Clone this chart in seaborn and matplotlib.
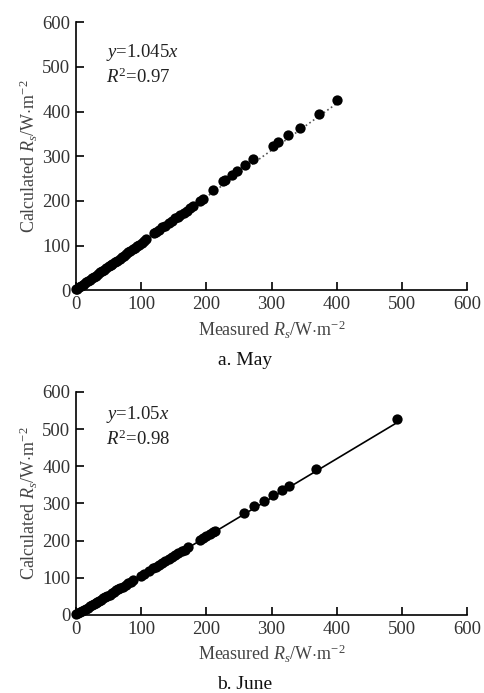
import numpy as np
import pandas as pd
import matplotlib
matplotlib.use("Agg")
import matplotlib.pyplot as plt
import seaborn as sns

# Data
may_measured = [0, 2, 5, 8, 10, 13, 16, 19, 22, 25, 28, 31, 34, 37, 40, 43, 46, 50, 53, 56,
                60, 63, 67, 70, 73, 76, 80, 83, 87, 90, 94, 97, 101, 104, 108, 120, 123, 127,
                132, 137, 142, 148, 152, 156, 160, 165, 170, 175, 180, 190, 195, 210, 225, 228,
                240, 247, 260, 272, 303, 310, 325, 343, 373, 400]
may_calculated = [3, 4, 7, 9, 12, 15, 18, 21, 24, 28, 31, 33, 36, 40, 43, 46, 49, 54, 56, 59,
                  64, 66, 71, 75, 77, 81, 85, 87, 92, 95, 99, 102, 107, 110, 114, 128, 131, 136,
                  141, 144, 150, 156, 161, 164, 169, 174, 178, 184, 189, 200, 205, 224, 244, 246,
                  259, 268, 280, 294, 324, 333, 347, 364, 395, 427]
may_slope = 1.045
may_r2 = 0.97

june_measured = [0, 3, 6, 9, 12, 15, 18, 21, 24, 27, 30, 33, 36, 39, 42, 45, 48, 52, 55, 58,
                 62, 65, 68, 72, 76, 80, 84, 88, 100, 105, 112, 118, 122, 127, 132, 137, 142,
                 147, 152, 157, 162, 167, 172, 190, 195, 200, 205, 210, 213, 258, 273, 288,
                 303, 316, 327, 368, 493]
june_calculated = [2, 5, 7, 10, 14, 17, 20, 23, 26, 29, 32, 35, 38, 41, 45, 48, 51, 55, 58, 61,
                   66, 69, 72, 76, 80, 85, 89, 93, 106, 111, 118, 125, 129, 134, 140, 145, 150,
                   155, 160, 166, 171, 176, 182, 202, 207, 212, 218, 222, 226, 275, 292, 307,
                   322, 335, 346, 393, 528]
june_slope = 1.05
june_r2 = 0.98

ticks = [0, 100, 200, 300, 400, 500, 600]

sns.set_style("ticks")
plt.rcParams['font.family'] = ['Liberation Serif', 'DejaVu Serif']
plt.rcParams['mathtext.fontset'] = 'custom'
plt.rcParams['mathtext.rm'] = 'Liberation Serif'
plt.rcParams['mathtext.it'] = 'Liberation Serif:italic'
plt.rcParams['xtick.direction'] = 'in'
plt.rcParams['ytick.direction'] = 'in'

fig = plt.figure(figsize=(4.84, 6.93), dpi=100)
ax_top = fig.add_axes([0.157, 0.581, 0.808, 0.387])
ax_bot = fig.add_axes([0.157, 0.1126, 0.808, 0.322])

panels = [
    (ax_top, may_measured, may_calculated, may_slope, may_r2, ':', '#555555', 'a. May',
     (0.888, 0.795), -0.261),
    (ax_bot, june_measured, june_calculated, june_slope, june_r2, '-', 'black', 'b. June',
     (0.897, 0.789), -0.31),
]

for ax, xs, ys, slope, r2, ls, lc, caption, ann_y, cap_y in panels:
    df = pd.DataFrame({'measured': xs, 'calculated': ys})
    fit = pd.DataFrame({'x': [0, max(xs)]})
    fit['y'] = slope * fit['x']
    sns.lineplot(data=fit, x='x', y='y', ax=ax, color=lc, linestyle=ls, linewidth=1.2, zorder=1)
    sns.scatterplot(data=df, x='measured', y='calculated', ax=ax, color='black', s=55,
                    linewidth=0, zorder=2, clip_on=False)
    ax.set_xlim(0, 600)
    ax.set_ylim(0, 600)
    ax.set_xticks(ticks)
    ax.set_yticks(ticks)
    ax.tick_params(labelsize=13.5, length=5.5, width=1.2, color='black',
                   labelcolor='#333333', pad=4)
    for s in ['left', 'bottom']:
        ax.spines[s].set_linewidth(1.2)
        ax.spines[s].set_color('black')
    sns.despine(ax=ax)
    ax.set_xlabel(r'Measured $R_s$/W$\cdot$m$^{-2}$', fontsize=13, color='#444444', labelpad=4)
    ax.set_ylabel(r'Calculated $R_s$/W$\cdot$m$^{-2}$', fontsize=13, color='#444444', labelpad=2)
    ax.text(0.078, ann_y[0], r'$y$=%s$x$' % ('%g' % slope), transform=ax.transAxes,
            fontsize=13.5, color='#222222', va='center')
    ax.text(0.078, ann_y[1], r'$R^2$=%.2f' % r2, transform=ax.transAxes,
            fontsize=13.5, color='#222222', va='center')
    ax.text(0.432, cap_y, caption, transform=ax.transAxes,
            fontsize=14, ha='center', va='center', color='#111111')

fig.savefig('out.png', dpi=100)
